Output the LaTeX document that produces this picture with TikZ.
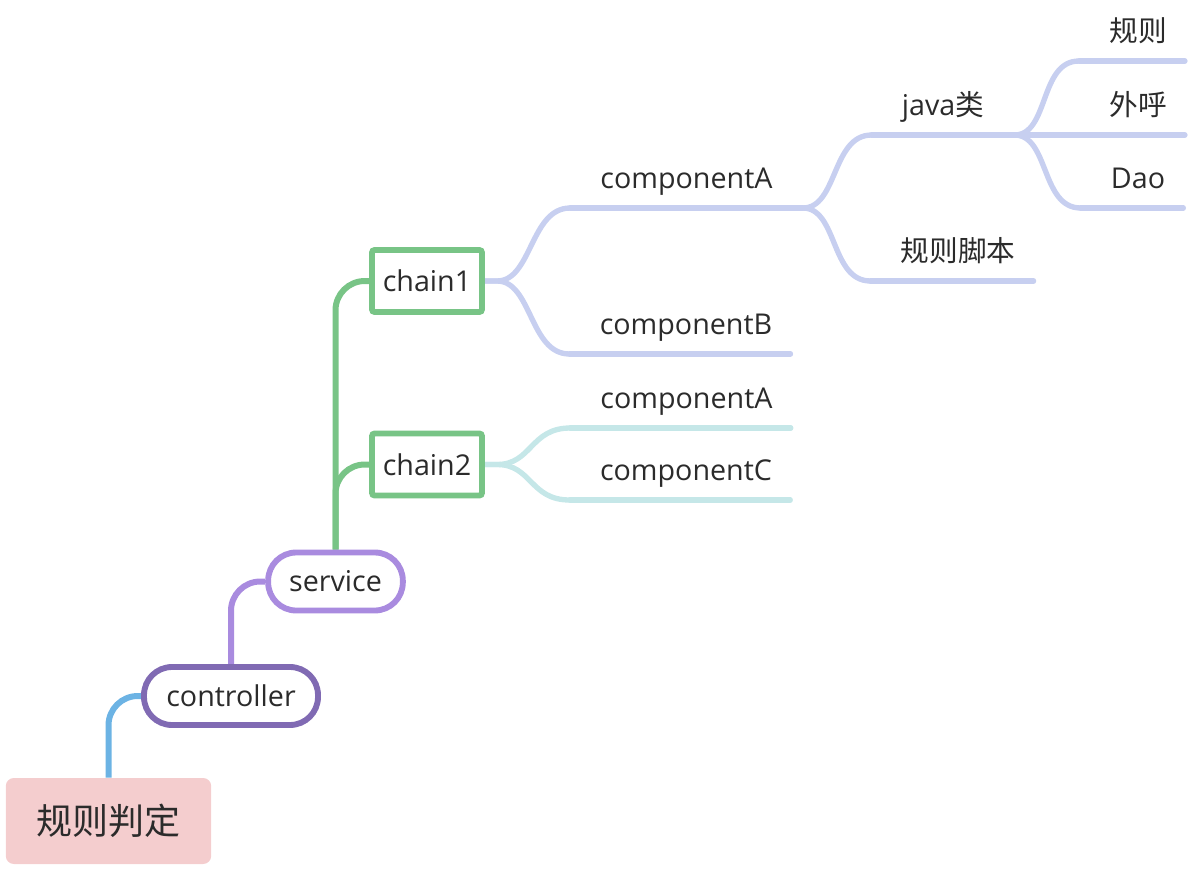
\documentclass[tikz,border=0pt]{standalone}
\usepackage{fontspec}
\setmainfont{Open Sans}
\newfontfamily\cjk{Noto Sans CJK SC}
\usetikzlibrary{backgrounds}

\definecolor{rootpink}{HTML}{F4CDCE}
\definecolor{rootblue}{HTML}{6CB3E4}
\definecolor{ctrlpurple}{HTML}{806AB3}
\definecolor{svcpurple}{HTML}{A98BDF}
\definecolor{chaingreen}{HTML}{78C486}
\definecolor{peri}{HTML}{C7CFF0}
\definecolor{paleteal}{HTML}{C5E7E8}
\definecolor{txtgray}{HTML}{2B2B2B}

\begin{document}
\begin{tikzpicture}[x=0.75pt, y=-0.75pt,
        every node/.style={text=txtgray, font=\fontsize{21.5}{26}\selectfont},
        pill/.style={draw, line width=4.4pt, rounded corners=21pt, fill=white, minimum height=43.5pt, inner sep=0pt},
        chainbox/.style={draw=chaingreen, line width=4.4pt, rounded corners=2pt, fill=white, minimum width=82.5pt, minimum height=46.5pt},
        topic/.style={anchor=south, inner xsep=22.5pt, inner ysep=12.5pt, text height=0.78em, text depth=0.22em},
        trunk/.style={line width=4.5pt, rounded corners=22pt},
        branch/.style={line width=4pt, line cap=round}]
    \useasboundingbox (0,0) rectangle (1189,868);

    \node[fill=rootpink, rounded corners=6pt, minimum width=154pt, minimum height=64.5pt, font=\cjk\fontsize{27}{32}\selectfont] (root) at (108.5,821) {规则判定};
    \node[pill, draw=ctrlpurple, minimum width=130.5pt] (ctrl) at (231,696) {controller};
    \node[pill, draw=svcpurple, minimum width=101pt] (svc) at (335.5,581.5) {service};
    \node[chainbox] (chain1) at (427,281) {chain1};
    \node[chainbox] (chain2) at (427,464.5) {chain2};

    \node[topic] (c1A) at (686.5,208) {componentA};
    \node[topic] (c1B) at (686,354) {componentB};
    \node[topic] (java) at (943,135) {java{\cjk 类}};
    \node[topic] (script) at (958,281) {\cjk 规则脚本};
    \node[topic] (rule) at (1138,61) {\cjk 规则};
    \node[topic] (call) at (1138,135) {\cjk 外呼};
    \node[topic] (dao) at (1138,208) {Dao};
    \node[topic] (c2A) at (686.5,428) {componentA};
    \node[topic] (c2C) at (686,500) {componentC};

    \begin{scope}[on background layer]
        \draw[trunk, rootblue] (root.north) |- (ctrl.west);
        \draw[trunk, svcpurple] (ctrl.north) |- (svc.west);
        \draw[trunk, chaingreen] (svc.north) |- (chain1.west);
        \draw[trunk, chaingreen] (svc.north) |- (chain2.west);

        \foreach \n in {c1A, c1B}
            \draw[branch, peri] (chain1.east) -- ++(12,0) .. controls +(35,0) and +(-40,0) .. (\n.south west);
        \foreach \n in {c2A, c2C}
            \draw[branch, paleteal] (chain2.east) -- ++(12,0) .. controls +(35,0) and +(-40,0) .. (\n.south west);
        \foreach \n in {java, script}
            \draw[branch, peri] (c1A.south east) .. controls +(35,0) and +(-40,0) .. (\n.south west);
        \foreach \n in {rule, call, dao}
            \draw[branch, peri] (java.south east) .. controls +(35,0) and +(-40,0) .. (\n.south west);

        \draw[branch, peri] (c1A.south west) -- (c1A.south east);
        \draw[branch, peri] (java.south west) -- (java.south east);
        \foreach \n in {c1B, script, rule, call, dao}
            \draw[branch, peri] (\n.south west) -- ([xshift=-9pt]\n.south east);
        \foreach \n in {c2A, c2C}
            \draw[branch, paleteal] (\n.south west) -- ([xshift=-9pt]\n.south east);
    \end{scope}
\end{tikzpicture}
\end{document}
